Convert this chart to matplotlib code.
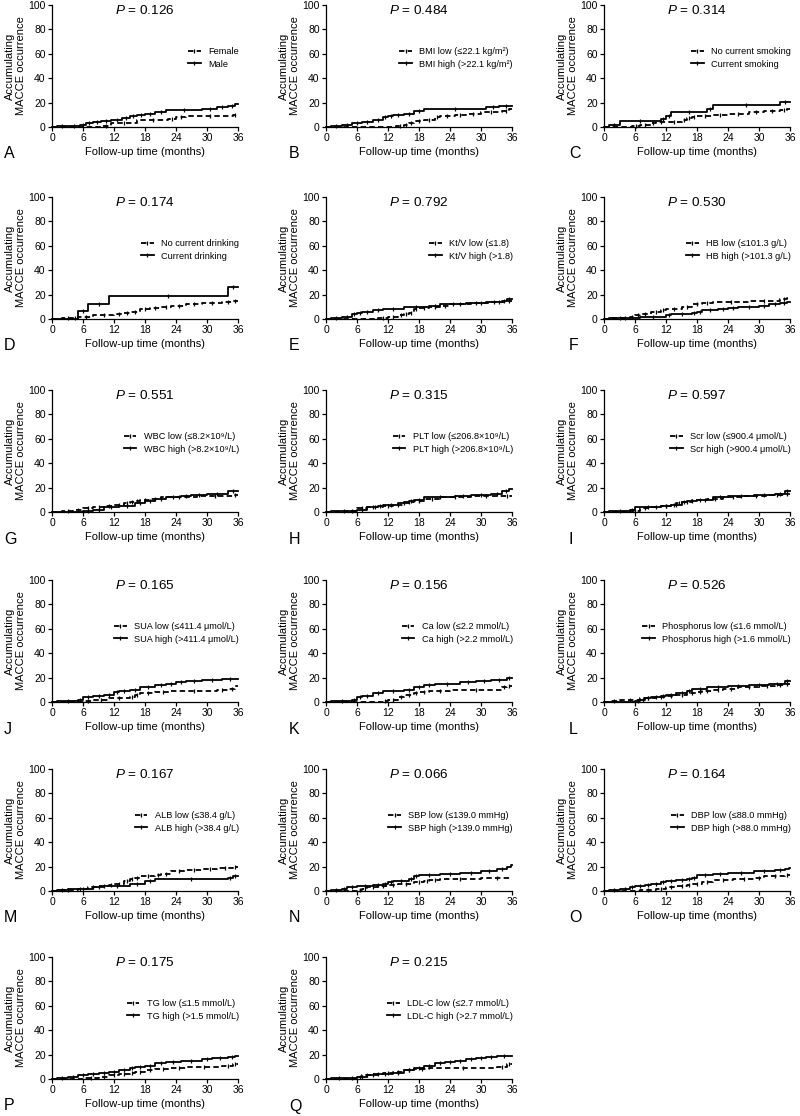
import matplotlib
matplotlib.use("Agg")
import matplotlib.pyplot as plt
from matplotlib.lines import Line2D

plt.rcParams['font.family'] = ['Liberation Sans', 'DejaVu Sans']
plt.rcParams['mathtext.fontset'] = 'custom'
plt.rcParams['mathtext.rm'] = 'Liberation Sans'
plt.rcParams['mathtext.it'] = 'Liberation Sans:italic'

# ---------------- data ----------------
panel_letters = list("ABCDEFGHIJKLMNOPQ")
p_values = ["0.126", "0.484", "0.314", "0.174", "0.792", "0.530", "0.551", "0.315", "0.597",
            "0.165", "0.156", "0.526", "0.167", "0.066", "0.164", "0.175", "0.215"]
low_labels = ["Female", "BMI low (≤22.1 kg/m²)", "No current smoking", "No current drinking",
              "Kt/V low (≤1.8)", "HB low (≤101.3 g/L)", "WBC low (≤8.2×10⁹/L)",
              "PLT low (≤206.8×10⁹/L)", "Scr low (≤900.4 μmol/L)", "SUA low (≤411.4 μmol/L)",
              "Ca low (≤2.2 mmol/L)", "Phosphorus low (≤1.6 mmol/L)", "ALB low (≤38.4 g/L)",
              "SBP low (≤139.0 mmHg)", "DBP low (≤88.0 mmHg)", "TG low (≤1.5 mmol/L)",
              "LDL-C low (≤2.7 mmol/L)"]
high_labels = ["Male", "BMI high (>22.1 kg/m²)", "Current smoking", "Current drinking",
               "Kt/V high (>1.8)", "HB high (>101.3 g/L)", "WBC high (>8.2×10⁹/L)",
               "PLT high (>206.8×10⁹/L)", "Scr high (>900.4 μmol/L)", "SUA high (>411.4 μmol/L)",
               "Ca high (>2.2 mmol/L)", "Phosphorus high (>1.6 mmol/L)", "ALB high (>38.4 g/L)",
               "SBP high (>139.0 mmHg)", "DBP high (>88.0 mmHg)", "TG high (>1.5 mmol/L)",
               "LDL-C high (>2.7 mmol/L)"]

A_low_t = [9.5, 11.5, 16.5, 22.5, 24, 26, 35]
A_low_y = [1, 3, 5.5, 6.5, 8, 9, 10]
A_high_t = [1, 3, 5.5, 6.5, 8, 9.5, 11.5, 13.5, 15, 16.5, 18, 20, 22, 29, 32, 34, 35.5]
A_high_y = [0.5, 1, 2, 3, 4, 5, 6, 7, 9, 10, 11, 12, 14, 15, 16, 17.5, 19]

B_low_t = [13.5, 15, 16, 17, 19, 21, 22, 25, 27, 30, 34, 35.5]
B_low_y = [1, 2, 3, 5, 6, 8, 9, 10, 11, 12, 13, 15]
B_high_t = [1, 3, 5, 7, 9, 11, 12, 13, 15, 17, 19, 31, 33.5]
B_high_y = [1, 2, 3, 4, 6, 8, 9, 10, 11, 13, 15, 16, 17]

C_low_t = [5.5, 7, 9, 10, 12, 15, 16, 17, 18, 21, 24, 28, 31, 34, 35.5]
C_low_y = [1, 2, 3, 4, 4.5, 6, 7, 8, 9, 10, 11, 12, 13, 14, 15]
C_high_t = [1, 3, 11, 12, 13, 20, 21, 34]
C_high_y = [2, 4.7, 6.8, 9, 12.3, 15, 17.8, 20.5]

D_low_t = [2, 4, 5, 8, 12, 14, 15, 17, 19, 21, 23, 26, 29, 33, 35]
D_low_y = [0.5, 1, 2, 3, 4, 5, 6, 8, 9, 10, 11, 12, 13, 14, 15]
D_high_t = [5, 7, 11, 34]
D_high_y = [6.3, 12.5, 18.8, 26]

E_low_t = [10, 12, 14, 15, 16, 17, 18, 20, 22, 24, 28, 32, 35]
E_low_y = [1, 2, 3, 4, 5, 8, 9, 10, 11, 12, 13, 14, 15]
E_high_t = [1, 3, 5, 6, 7, 9, 11, 15, 20, 22, 27, 31, 34, 35]
E_high_y = [1, 2, 4, 5, 6, 7, 8, 10, 11, 12, 13, 14, 15, 16]

F_low_t = [1, 5, 6, 7, 9, 11, 12, 15, 17, 19, 21, 28, 34, 35.5]
F_low_y = [1, 2, 3, 4, 6, 7, 8, 10, 12, 13, 14, 15, 16, 17]
F_high_t = [1, 7, 12, 13, 17, 18, 19, 22, 24, 26, 30, 32, 34, 35.5]
F_high_y = [1, 2, 3, 4, 5, 6, 7, 8, 9, 10, 11, 12, 13, 14]

G_low_t = [2, 4, 6, 8, 10, 12, 14, 15, 16, 17, 19, 21, 28, 35]
G_low_y = [1, 2, 3, 4, 5, 6, 7, 8, 9, 10, 11, 12, 13, 14]
G_high_t = [6, 8, 10, 13, 16, 18, 20, 22, 25, 27, 30, 34]
G_high_y = [1, 2, 4, 5, 7, 9, 11, 12, 13, 14, 15, 17]

H_low_t = [4, 6, 8, 11, 13, 15, 17, 19, 22, 28, 34]
H_low_y = [1, 3, 4, 5, 6, 8, 9, 11, 12, 13, 13.5]
H_high_t = [1, 6, 8, 10, 11, 14, 16, 17, 19, 25, 28, 32, 34, 35.5]
H_high_y = [1, 2, 4, 5, 6, 7, 9, 10, 12, 13, 14, 15, 17, 19]

I_low_t = [5, 7, 9, 11, 13, 14, 15, 17, 20, 23, 27, 32, 35]
I_low_y = [1, 3, 4, 5, 6, 7, 8, 10, 11, 12, 13, 14, 15]
I_high_t = [1, 5, 6, 11, 13, 15, 16, 18, 21, 24, 29, 33, 35]
I_high_y = [1, 2, 4, 5, 6, 8, 9, 10, 12, 13, 14, 15, 17]

J_low_t = [6, 8, 11, 15, 16, 17, 20, 23, 32, 34, 35.5]
J_low_y = [1, 2, 3, 4, 6, 7, 8, 9, 10, 11, 13]
J_high_t = [1, 5, 6, 8, 10, 12, 13, 15, 17, 20, 22, 24, 26, 29, 33]
J_high_y = [1, 2, 4, 5, 6, 8, 9, 10, 12, 14, 15, 16, 17, 18, 19]

K_low_t = [11, 12, 14, 15, 17, 18, 20, 24, 34, 35]
K_low_y = [1, 2, 4, 6, 7, 8, 9, 10, 12, 13]
K_high_t = [1, 5, 6, 7, 9, 11, 15, 17, 19, 21, 26, 29, 32, 35]
K_high_y = [1, 2, 4, 5, 7, 9, 10, 12, 14, 15, 16, 17, 18, 20]

L_low_t = [1, 3, 7, 10, 12, 14, 16, 18, 19, 21, 23, 26, 30, 33, 35]
L_low_y = [1, 2, 3, 4, 5, 6, 7, 8, 9, 10, 11, 12, 13, 14, 15]
L_high_t = [6, 7, 8, 9, 11, 12, 14, 16, 17, 20, 24, 28, 32, 35]
L_high_y = [1, 2, 3, 4, 5, 6, 7, 9, 11, 12, 13, 14, 15, 17]

M_low_t = [1, 5, 7, 9, 11, 12, 14, 15, 16, 17, 20, 21, 23, 26, 29, 32, 35]
M_low_y = [1, 2, 3, 4, 5, 6, 8, 10, 11, 12, 13, 14, 16, 17, 18, 19, 20]
M_high_t = [1, 3, 8, 10, 15, 18, 20, 34, 35]
M_high_y = [1, 2, 3, 4, 6, 8, 10, 11, 12]

N_low_t = [6, 7, 8, 10, 12, 14, 17, 19, 20, 22, 30]
N_low_y = [1, 2, 3, 4, 5, 6, 7, 8, 9, 10, 11]
N_high_t = [1, 3, 4, 6, 9, 11, 12, 13, 16, 17, 18, 22, 26, 30, 33, 35, 35.8]
N_high_y = [1, 2, 3, 4, 5, 6, 7, 8, 10, 12, 13, 14, 15, 16, 18, 20, 21]

O_low_t = [7, 10, 12, 14, 16, 17, 19, 21, 25, 29, 31, 35]
O_low_y = [1, 2, 3, 4, 5, 6, 7, 9, 10, 11, 12, 13]
O_high_t = [1, 3, 5, 6, 8, 9, 11, 12, 14, 16, 17, 18, 21, 24, 29, 33, 35, 35.8]
O_high_y = [1, 2, 3, 4, 5, 6, 7, 8, 9, 10, 11, 13, 14, 15, 16, 17, 18, 19]

P_low_t = [6, 9, 11, 13, 15, 16, 18, 20, 23, 26, 33, 35]
P_low_y = [1, 2, 3, 4, 5, 6, 7, 8, 9, 10, 11, 12]
P_high_t = [1, 3, 5, 7, 9, 11, 13, 15, 16, 18, 20, 22, 25, 29, 31, 34, 35.5]
P_high_y = [1, 2, 3, 4, 5, 6, 7, 9, 10, 11, 13, 14, 15, 16, 17, 18, 19]

Q_low_t = [6, 7, 9, 11, 13, 15, 17, 20, 33, 35]
Q_low_y = [2, 3, 4, 5, 6, 7, 8, 9, 10, 12]
Q_high_t = [1, 4, 6, 8, 10, 13, 15, 17, 19, 21, 23, 25, 27, 29, 31, 33]
Q_high_y = [0.5, 1, 2, 3, 4, 5, 7, 9, 11, 13, 14, 15, 16, 17, 18, 19]

low_series = [(A_low_t, A_low_y), (B_low_t, B_low_y), (C_low_t, C_low_y), (D_low_t, D_low_y),
              (E_low_t, E_low_y), (F_low_t, F_low_y), (G_low_t, G_low_y), (H_low_t, H_low_y),
              (I_low_t, I_low_y), (J_low_t, J_low_y), (K_low_t, K_low_y), (L_low_t, L_low_y),
              (M_low_t, M_low_y), (N_low_t, N_low_y), (O_low_t, O_low_y), (P_low_t, P_low_y),
              (Q_low_t, Q_low_y)]
high_series = [(A_high_t, A_high_y), (B_high_t, B_high_y), (C_high_t, C_high_y), (D_high_t, D_high_y),
               (E_high_t, E_high_y), (F_high_t, F_high_y), (G_high_t, G_high_y), (H_high_t, H_high_y),
               (I_high_t, I_high_y), (J_high_t, J_high_y), (K_high_t, K_high_y), (L_high_t, L_high_y),
               (M_high_t, M_high_y), (N_high_t, N_high_y), (O_high_t, O_high_y), (P_high_t, P_high_y),
               (Q_high_t, Q_high_y)]

x_ticks = [0, 6, 12, 18, 24, 30, 36]
y_ticks = [0, 20, 40, 60, 80, 100]
T_MAX = 36

# ---------------- layout ----------------
W, H = 800, 1116
fig = plt.figure(figsize=(W / 100, H / 100), dpi=100)
col_left_px = [52, 326, 604]
letter_x_px = [4, 289, 569]
row_bottom_px = [127, 319, 512, 702, 891, 1079]
ax_w_px, ax_h_px = 186, 122

DASH = (0, (3.0, 1.8))


def step_xy(t, y):
    xs = [0] + list(t) + [T_MAX]
    ys = [0] + list(y) + [y[-1] if len(y) else 0]
    return xs, ys


def censor_marks(t, y):
    xs = [0] + list(t) + [T_MAX]
    ys = [0] + list(y)
    cx, cy = [], []
    for i in range(1, len(xs) - 1):
        a, b = xs[i], xs[i + 1]
        if b - a >= 1.0:
            cx.append((a + b) / 2)
            cy.append(ys[i])
    return cx, cy


for i, letter in enumerate(panel_letters):
    r, c = divmod(i, 3)
    bpx = row_bottom_px[r]
    ax = fig.add_axes([col_left_px[c] / W, 1 - bpx / H, ax_w_px / W, ax_h_px / H])

    for (t, y), ls in ((low_series[i], DASH), (high_series[i], '-')):
        xs, ys = step_xy(t, y)
        ax.step(xs, ys, where='post', color='black', lw=1.3, linestyle=ls, clip_on=False)
        cx, cy = censor_marks(t, y)
        ax.plot(cx, cy, linestyle='none', marker='|', markersize=3.5, mew=0.9, color='black',
                clip_on=False)

    ax.set_xlim(0, T_MAX)
    ax.set_ylim(0, 100)
    ax.set_xticks(x_ticks)
    ax.set_yticks(y_ticks)
    for s in ('top', 'right'):
        ax.spines[s].set_visible(False)
    for s in ('left', 'bottom'):
        ax.spines[s].set_linewidth(0.9)
    ax.tick_params(direction='out', length=3, width=0.9, labelsize=7.5, pad=1.5)
    ax.set_xlabel("Follow-up time (months)", fontsize=8, labelpad=3)
    ax.set_ylabel("Accumulating\nMACCE occurrence", fontsize=8, labelpad=2, linespacing=1.05)

    ax.text(0.5, 0.955, r"$P$ = " + p_values[i], transform=ax.transAxes,
            ha='center', va='center', fontsize=9.7)

    handles = [Line2D([0], [0], color='black', lw=1.3, linestyle=DASH, marker='|', markersize=3.5, mew=0.9),
               Line2D([0], [0], color='black', lw=1.3, linestyle='-', marker='|', markersize=3.5, mew=0.9)]
    ax.legend(handles, [low_labels[i], high_labels[i]], loc='center right',
              bbox_to_anchor=(1.005, 0.565), frameon=False, fontsize=6.6,
              handlelength=1.4, handletextpad=0.8, labelspacing=0.35,
              borderpad=0, borderaxespad=0, numpoints=1)

    fig.text(letter_x_px[c] / W, 1 - (bpx + 27) / H, letter, fontsize=11.5,
             ha='left', va='center')

fig.savefig("out.png", dpi=100)
